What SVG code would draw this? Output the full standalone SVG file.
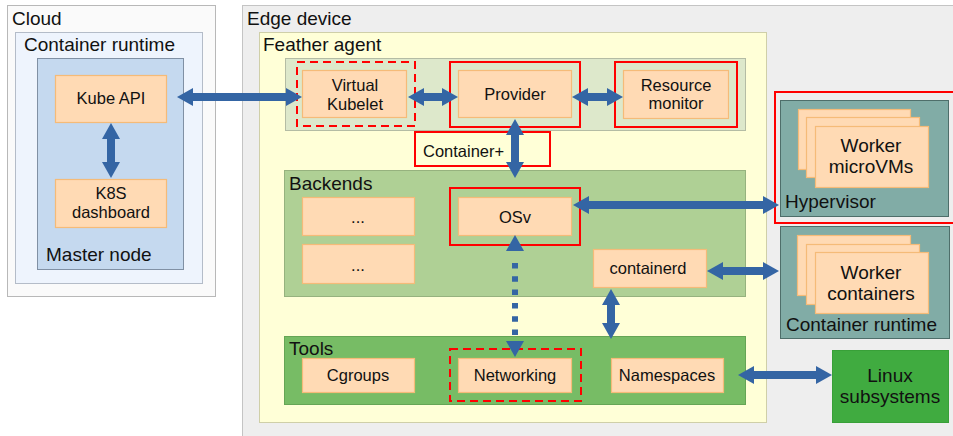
<svg xmlns="http://www.w3.org/2000/svg" width="953" height="436" viewBox="0 0 953 436">
<defs>
<style>
text{font-family:"Liberation Sans",Arial,sans-serif;fill:#111}
.t{font-size:19px}
.l{font-size:16.5px;text-anchor:middle}
.p{fill:#ffdab4;stroke:#f5bb78;stroke-width:1.2}
.r{fill:none;stroke:#ff0000;stroke-width:2}
.rd{fill:none;stroke:#ff0000;stroke-width:2;stroke-dasharray:8 5}
.a{stroke:#3465a4;stroke-width:8;fill:none;marker-start:url(#ah);marker-end:url(#ah)}
.d{stroke:#3465a4;stroke-width:6;fill:none;stroke-dasharray:0 12 5.5 7.8 5.5 7.8 5.5 7.8 5.5 7.8 5.5 7.8 5.5 20;marker-start:url(#ah2);marker-end:url(#ah2)}
</style>
<marker id="ah" viewBox="0 0 16 18" refX="0" refY="9" markerWidth="16" markerHeight="18" markerUnits="userSpaceOnUse" orient="auto-start-reverse"><path d="M0,0 L16,9 L0,18 z" fill="#3465a4"/></marker>
<marker id="ah2" viewBox="0 0 16 18" refX="0" refY="9" markerWidth="16" markerHeight="18" markerUnits="userSpaceOnUse" orient="auto-start-reverse"><path d="M0,0 L16,9 L0,18 z" fill="#3465a4"/></marker>
</defs>
<rect width="953" height="436" fill="#ffffff"/>
<g id="cloud">
<rect x="7.5" y="5.5" width="208" height="291" fill="#fafafa" stroke="#b8b8b8"/>
<text class="t" x="12" y="25">Cloud</text>
</g>
<g id="cloud-runtime">
<rect x="15.5" y="32.5" width="187" height="251" fill="#eef4fd" stroke="#b4bcc8"/>
<text class="t" x="24" y="51">Container runtime</text>
</g>
<g id="master-node">
<rect x="37.5" y="58.5" width="146" height="211" fill="#c5d9ef" stroke="#8090a4"/>
<text class="t" x="46" y="261">Master node</text>
</g>
<g id="kube-api">
<rect class="p" x="55.5" y="75.5" width="111" height="47"/>
<text class="l" x="111" y="104">Kube API</text>
</g>
<g id="k8s-dashboard">
<rect class="p" x="55.5" y="179.5" width="111" height="48"/>
<text class="l" x="111" y="199">K8S</text>
<text class="l" x="111" y="218">dashboard</text>
</g>
<g id="edge-device">
<rect x="242.5" y="5.5" width="720" height="440" fill="#eeeeee" stroke="#c4c4c4"/>
<text class="t" x="247" y="25">Edge device</text>
</g>
<g id="feather-agent">
<rect x="259.5" y="32.5" width="507" height="390" fill="#ffffd7" stroke="#cfcfa8"/>
<text class="t" x="263" y="51">Feather agent</text>
</g>
<g id="core-band">
<rect x="285.5" y="58.5" width="460" height="72" fill="#dde8cb" stroke="#b4bca4"/>
</g>
<g id="virtual-kubelet">
<rect class="rd" x="297" y="62" width="118" height="64"/>
<rect class="p" x="302.5" y="70.5" width="104" height="47"/>
<text class="l" x="355" y="91">Virtual</text>
<text class="l" x="355" y="110">Kubelet</text>
</g>
<g id="provider">
<rect class="r" x="450" y="62" width="130" height="65"/>
<rect class="p" x="458.5" y="70.5" width="113" height="47"/>
<text class="l" x="515" y="100">Provider</text>
</g>
<g id="resource-monitor">
<rect class="r" x="615" y="62" width="122" height="65"/>
<rect class="p" x="623.5" y="70.5" width="105" height="48"/>
<text class="l" x="676" y="91">Resource</text>
<text class="l" x="676" y="109">monitor</text>
</g>
<g id="container-plus">
<rect x="415" y="132" width="135" height="34" fill="#ffffd7" stroke="#ff0000" stroke-width="2"/>
<text class="l" x="423" y="157" style="text-anchor:start">Container+</text>
</g>
<g id="backends">
<rect x="284.5" y="170.5" width="461" height="126" fill="#afd095" stroke="#96b27e"/>
<text class="t" x="289" y="190">Backends</text>
</g>
<g id="backend-1">
<rect class="p" x="302.5" y="197.5" width="112" height="38"/>
<text class="l" x="358" y="223">...</text>
</g>
<g id="backend-2">
<rect class="p" x="302.5" y="244.5" width="112" height="39"/>
<text class="l" x="358" y="271">...</text>
</g>
<g id="osv">
<rect class="r" x="450" y="188" width="130" height="57"/>
<rect class="p" x="458.5" y="197.5" width="113" height="38"/>
<text class="l" x="515" y="223">OSv</text>
</g>
<g id="containerd">
<rect class="p" x="593.5" y="249.5" width="113" height="38"/>
<text class="l" x="648" y="274">containerd</text>
</g>
<g id="tools">
<rect x="284.5" y="336.5" width="461" height="68" fill="#77bc65" stroke="#65a555"/>
<text class="t" x="289" y="355">Tools</text>
</g>
<g id="cgroups">
<rect class="p" x="302.5" y="358.5" width="112" height="34"/>
<text class="l" x="358" y="381">Cgroups</text>
</g>
<g id="networking">
<rect class="rd" x="450" y="349" width="131" height="52"/>
<rect class="p" x="458.5" y="358.5" width="113" height="34"/>
<text class="l" x="515" y="381">Networking</text>
</g>
<g id="namespaces">
<rect class="p" x="611.5" y="358.5" width="112" height="34"/>
<text class="l" x="667" y="381">Namespaces</text>
</g>
<g id="hypervisor">
<rect class="r" x="775" y="92" width="190" height="131"/>
<rect x="780.5" y="100.5" width="168" height="116" fill="#81aca6" stroke="#4e6e6a"/>
<text class="t" x="785" y="208">Hypervisor</text>
</g>
<g id="worker-microvms">
<rect class="p" x="798.5" y="109.5" width="112" height="60"/>
<rect class="p" x="806.5" y="117.5" width="113" height="60"/>
<rect class="p" x="815.5" y="126.5" width="113" height="61"/>
<text class="t" x="871" y="152" text-anchor="middle">Worker</text>
<text class="t" x="871" y="173" text-anchor="middle">microVMs</text>
</g>
<g id="container-runtime">
<rect x="780.5" y="226.5" width="169" height="112" fill="#81aca6" stroke="#4e6e6a"/>
<text class="t" x="786" y="331">Container runtime</text>
</g>
<g id="worker-containers">
<rect class="p" x="797.5" y="235.5" width="113" height="60"/>
<rect class="p" x="806.5" y="244.5" width="113" height="60"/>
<rect class="p" x="815.5" y="252.5" width="113" height="61"/>
<text class="t" x="871" y="279" text-anchor="middle">Worker</text>
<text class="t" x="871" y="300" text-anchor="middle">containers</text>
</g>
<g id="linux-subsystems">
<rect x="832.5" y="350.5" width="116" height="72" fill="#40ab40" stroke="#38a038"/>
<text class="t" x="890" y="382" text-anchor="middle">Linux</text>
<text class="t" x="890" y="403" text-anchor="middle">subsystems</text>
</g>
<g id="connectors">
<line class="a" x1="111" y1="139" x2="111" y2="162"/>
<line class="a" x1="193" y1="97" x2="286" y2="97"/>
<line class="a" x1="424" y1="97" x2="442" y2="97"/>
<line class="a" x1="588" y1="97" x2="607" y2="97"/>
<line class="a" x1="515" y1="135" x2="515" y2="162"/>
<line class="a" x1="589" y1="205" x2="763" y2="205"/>
<line class="a" x1="723" y1="271" x2="763" y2="271"/>
<line class="a" x1="611" y1="305" x2="611" y2="323"/>
<line class="a" x1="754" y1="375" x2="816" y2="375"/>
<line class="d" x1="515" y1="251" x2="515" y2="341"/>
</g>
</svg>
